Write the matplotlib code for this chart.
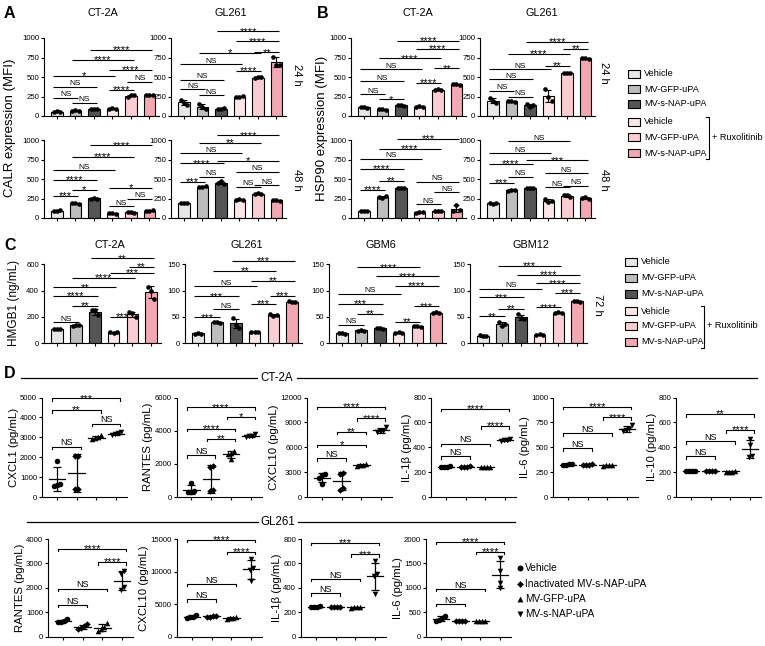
import numpy as np
import matplotlib
matplotlib.use('Agg')
import matplotlib.pyplot as plt

plt.rcParams['font.family'] = ['Liberation Sans', 'DejaVu Sans']
plt.rcParams['axes.linewidth'] = 0.8

# ---------------- data ----------------
bar_groups = ['Vehicle', 'MV-GFP-uPA', 'MV-s-NAP-uPA', 'Vehicle', 'MV-GFP-uPA', 'MV-s-NAP-uPA']
bar_colors = ['#e6e6e6', '#bdbdbd', '#555555', '#fce6e8', '#f9cdd2', '#f2a7b1']

# Panel A: CALR (MFI), 3 replicates per bar
calr_ct2a_24h = [[50, 60, 55], [65, 75, 70], [85, 95, 90], [90, 105, 90], [250, 265, 265], [265, 275, 270]]
calr_gl261_24h = [[210, 170, 140], [160, 110, 90], [95, 90, 100], [250, 240, 260], [490, 495, 495], [760, 660, 650]]
calr_ct2a_48h = [[95, 90, 100], [190, 195, 185], [250, 260, 245], [60, 65, 55], [75, 80, 70], [95, 90, 100]]
calr_gl261_48h = [[190, 195, 190], [395, 400, 405], [450, 470, 430], [230, 240, 235], [310, 320, 305], [225, 230, 220]]
# Panel B: HSP90 (MFI)
hsp_ct2a_24h = [[110, 115, 105], [85, 90, 80], [135, 140, 130], [120, 125, 110], [335, 340, 330], [405, 410, 400]]
hsp_gl261_24h = [[230, 190, 170], [190, 195, 185], [150, 120, 135], [340, 240, 190], [550, 555, 545], [740, 745, 735]]
hsp_ct2a_48h = [[85, 95, 90], [270, 260, 280], [390, 385, 380], [70, 75, 80], [85, 90, 85], [95, 170, 100]]
hsp_gl261_48h = [[190, 180, 195], [350, 360, 365], [380, 385, 390], [240, 200, 220], [300, 290, 270], [260, 270, 250]]
# Panel C: HMGB1 (ng/mL)
hmgb1_ct2a = [[105, 110, 108], [135, 140, 138], [255, 250, 215], [85, 80, 85], [235, 230, 200], [430, 400, 340]]
hmgb1_gl261 = [[18, 20, 18], [40, 41, 39], [48, 35, 30], [22, 21, 22], [55, 52, 53], [80, 79, 78]]
hmgb1_gbm6 = [[19, 20, 18], [24, 25, 24], [29, 30, 28], [20, 21, 19], [32, 33, 31], [58, 59, 58]]
hmgb1_gbm12 = [[16, 13, 14], [40, 33, 37], [55, 48, 46], [15, 17, 16], [58, 59, 57], [80, 81, 79]]

# significance annotations: (bar i, bar j, height, label)
calr_ct2a_24h_sig = [(0, 1, 236, 'NS'), (1, 2, 172, 'NS'), (0, 2, 377, 'NS'), (0, 3, 515, '*'), (3, 4, 335, '****'),
                     (4, 5, 442, 'NS'), (3, 5, 592, '****'), (1, 4, 720, '****'), (2, 5, 850, '****')]
calr_gl261_24h_sig = [(0, 1, 343, 'NS'), (1, 2, 270, 'NS'), (0, 2, 463, 'NS'), (0, 3, 665, 'NS'), (1, 4, 806, '*'),
                      (3, 4, 579, '****'), (4, 5, 815, '**'), (3, 5, 957, '****'), (2, 5, 1085, '****')]
calr_ct2a_48h_sig = [(0, 1, 279, '***'), (1, 2, 356, '*'), (0, 2, 485, '****'), (0, 3, 613, 'NS'), (1, 4, 780, '****'),
                     (2, 5, 932, '****'), (3, 4, 150, 'NS'), (4, 5, 249, 'NS'), (3, 5, 386, '*')]
calr_gl261_48h_sig = [(0, 1, 463, '***'), (1, 2, 528, 'NS'), (0, 2, 700, '****'), (0, 3, 830, 'NS'), (1, 4, 960, '**'),
                      (2, 5, 1060, '****'), (3, 4, 400, 'NS'), (4, 5, 420, 'NS'), (3, 5, 592, 'NS'), (2, 5, 733, '*')]
hsp_ct2a_24h_sig = [(0, 1, 280, 'NS'), (1, 2, 214, '*'), (0, 2, 450, 'NS'), (0, 3, 600, 'NS'), (3, 4, 420, '****'),
                    (4, 5, 609, '**'), (1, 4, 738, '****'), (3, 5, 858, '****'), (2, 5, 965, '****')]
hsp_gl261_24h_sig = [(0, 1, 322, 'NS'), (1, 2, 249, 'NS'), (0, 2, 472, 'NS'), (0, 3, 600, 'NS'), (3, 4, 643, '**'),
                     (1, 4, 794, '****'), (4, 5, 858, '**'), (2, 5, 952, '****')]
hsp_ct2a_48h_sig = [(0, 1, 365, '****'), (1, 2, 480, '**'), (0, 2, 630, '****'), (0, 3, 760, 'NS'), (1, 4, 888, '****'),
                    (2, 5, 1017, '***'), (3, 4, 180, 'NS'), (4, 5, 330, 'NS'), (3, 5, 467, 'NS')]
hsp_gl261_48h_sig = [(0, 1, 446, '***'), (1, 2, 532, 'NS'), (0, 2, 695, '****'), (0, 3, 832, 'NS'), (1, 4, 987, 'NS'),
                     (2, 5, 738, '***'), (3, 4, 395, 'NS'), (4, 5, 414, 'NS'), (3, 5, 573, 'NS')]
hmgb1_ct2a_sig = [(0, 1, 159, 'NS'), (1, 2, 285, '**'), (0, 2, 361, '****'), (0, 3, 425, '**'), (3, 4, 202, '***'),
                  (1, 4, 498, '****'), (3, 5, 534, '***'), (4, 5, 581, '**'), (2, 5, 645, '**')]
hmgb1_gl261_sig = [(0, 1, 49, '***'), (1, 2, 65, 'NS'), (0, 2, 89, '***'), (0, 3, 108, 'NS'), (1, 4, 138, '**'),
                   (2, 5, 157, '***'), (3, 4, 75, '***'), (4, 5, 90, '***'), (3, 5, 118, '**')]
hmgb1_gbm6_sig = [(0, 1, 35, 'NS'), (1, 2, 56, '**'), (0, 2, 75, '***'), (0, 3, 94, 'NS'), (1, 4, 144, '****'),
                  (2, 5, 127, '****'), (3, 4, 41, '**'), (4, 5, 70, '***'), (3, 5, 109, '****')]
hmgb1_gbm12_sig = [(0, 1, 51, '**'), (1, 2, 66, '**'), (0, 2, 87, '***'), (0, 3, 104, 'NS'), (1, 4, 147, '***'),
                   (2, 5, 130, '****'), (3, 4, 68, '****'), (4, 5, 96, '***'), (3, 5, 114, '****')]

# Panel D: cytokines (pg/mL), 4 mice per group
d_groups = ['Vehicle', 'Inactivated MV-s-NAP-uPA', 'MV-GFP-uPA', 'MV-s-NAP-uPA']
d_markers = ['o', 'D', '^', 'v']
cxcl1_ct2a = [[1800, 650, 600, 550], [2050, 2050, 400, 400], [3100, 2950, 3000, 2900], [3250, 3150, 3200, 3100]]
rantes_ct2a = [[850, 350, 300, 300], [1850, 1800, 400, 350], [2800, 2650, 2600, 2300], [3800, 3650, 3700, 3600]]
cxcl10_ct2a = [[2800, 2700, 2300, 1600], [2900, 2800, 1100, 800], [4000, 3900, 3800, 3700], [8500, 8000, 7800, 7900]]
il1b_ct2a = [[250, 245, 245, 240], [248, 245, 242, 245], [240, 238, 242, 240], [470, 460, 450, 455]]
il6_ct2a = [[330, 325, 322, 328], [325, 322, 328, 325], [318, 322, 320, 315], [720, 680, 660, 670]]
il10_ct2a = [[210, 212, 208, 210], [210, 208, 212, 210], [205, 208, 203, 205], [470, 420, 330, 320]]
rantes_gl261 = [[720, 650, 620, 600], [500, 420, 350, 300], [550, 400, 300, 250], [2700, 2550, 2050, 1900]]
cxcl10_gl261 = [[3400, 3100, 2900, 3000], [3200, 3100, 3050, 3150], [3100, 2900, 2700, 2800], [12000, 10500, 10200, 8600]]
il1b_gl261 = [[248, 245, 245, 242], [245, 245, 245, 245], [240, 240, 238, 242], [620, 510, 500, 350]]
il6_gl261 = [[430, 380, 350, 330], [330, 330, 325, 330], [320, 325, 315, 320], [1620, 1350, 1100, 1000]]

cxcl1_ct2a_sig = [(0, 1, 2520, 'NS'), (0, 2, 4365, '**'), (2, 3, 3690, 'NS'), (0, 3, 4950, '***')]
rantes_ct2a_sig = [(0, 1, 2510, 'NS'), (1, 2, 3500, '**'), (0, 2, 4100, '****'), (2, 3, 4840, '*'), (0, 3, 5400, '****')]
cxcl10_ct2a_sig = [(0, 1, 4650, 'NS'), (0, 2, 6280, '*'), (1, 2, 7880, '**'), (2, 3, 9470, '****'), (0, 3, 10900, '****')]
il1b_ct2a_sig = [(0, 1, 329, 'NS'), (0, 2, 430, 'NS'), (2, 3, 569, '****'), (0, 3, 711, '****')]
il6_ct2a_sig = [(0, 1, 488, 'NS'), (0, 2, 639, 'NS'), (2, 3, 800, '****'), (0, 3, 906, '****')]
il10_ct2a_sig = [(0, 1, 329, 'NS'), (0, 2, 449, 'NS'), (2, 3, 537, '****'), (0, 3, 666, '**')]
rantes_gl261_sig = [(0, 1, 1300, 'NS'), (0, 2, 1960, 'NS'), (2, 3, 3050, '****'), (0, 3, 3590, '****')]
cxcl10_gl261_sig = [(0, 1, 5730, 'NS'), (0, 2, 8090, 'NS'), (2, 3, 13000, '****'), (0, 3, 14850, '****')]
il1b_gl261_sig = [(0, 1, 355, 'NS'), (0, 2, 472, 'NS'), (2, 3, 674, '***'), (0, 3, 770, '***')]
il6_gl261_sig = [(0, 1, 670, 'NS'), (0, 2, 977, 'NS'), (2, 3, 1740, '****'), (0, 3, 1946, '****')]

# ---------------- figure ----------------
W, H = 765, 646
fig = plt.figure(figsize=(W / 100, H / 100), dpi=100)


def add_ax(left, top, width, bottom):
    return fig.add_axes([left / W, 1 - bottom / H, width / W, (bottom - top) / H])


ov = fig.add_axes([0, 0, 1, 1])
ov.set_xlim(0, W)
ov.set_ylim(H, 0)
ov.axis('off')


def style_ax(ax, yticks, ylim, nx, xlim):
    ax.set_xlim(*xlim)
    ax.set_ylim(*ylim)
    ax.set_yticks(yticks)
    ax.set_xticks(range(nx))
    ax.set_xticklabels([])
    for s in ['top', 'right']:
        ax.spines[s].set_visible(False)
    ax.tick_params(axis='both', direction='out', length=2.5, width=0.8, labelsize=5.6, pad=1)
    ax.patch.set_alpha(0)


def sig(ax, x0, x1, y, lab, tick=None, star_fs=8, ns_fs=6):
    ax.plot([x0, x1], [y, y], color='k', lw=0.8, clip_on=False, solid_capstyle='butt')
    if tick is not None:
        for xx in (x0, x1):
            ax.plot([xx, xx], [y, y - tick], color='k', lw=0.8, clip_on=False)
    xc = (x0 + x1) / 2
    if '*' in lab:
        ax.annotate(lab, (xc, y), xytext=(0, -2.4), textcoords='offset points', ha='center',
                    va='baseline', fontsize=star_fs, annotation_clip=False)
    else:
        ax.annotate(lab, (xc, y), xytext=(0, 1.0), textcoords='offset points', ha='center',
                    va='baseline', fontsize=ns_fs, annotation_clip=False)


def bar_panel(ax, pts, sigs, ymax, yticks):
    x = np.arange(len(pts))
    means = [np.mean(p) for p in pts]
    sds = [np.std(p, ddof=1) for p in pts]
    ax.bar(x, means, width=0.62, color=bar_colors, edgecolor='black', linewidth=0.8, zorder=2)
    ax.errorbar(x, means, yerr=sds, fmt='none', ecolor='black', elinewidth=0.8, capsize=2.2,
                capthick=0.8, zorder=3)
    for i, p in enumerate(pts):
        ax.scatter(i + np.array([-0.17, 0.0, 0.17]), p, s=11, color='black', zorder=4,
                   clip_on=False, linewidths=0)
    for (i, j, y, lab) in sigs:
        sig(ax, i - 0.2, j + 0.15, y, lab)
    style_ax(ax, yticks, (0, ymax), len(pts), (-0.7, 5.5))


def swarm_offsets(vals, thr, step=0.15):
    vals = np.asarray(vals, float)
    order = np.argsort(vals)
    offs = np.zeros(len(vals))
    clusters = [[order[0]]]
    for k in order[1:]:
        if vals[k] - vals[clusters[-1][-1]] < thr:
            clusters[-1].append(k)
        else:
            clusters.append([k])
    for c in clusters:
        n = len(c)
        for m, idx in enumerate(c):
            offs[idx] = (m - (n - 1) / 2) * step
    return offs


def dot_panel(ax, groups, sigs, ymax, yticks, ylabel):
    for g, vals in enumerate(groups):
        offs = swarm_offsets(vals, 0.05 * ymax)
        ax.scatter(g + offs, vals, marker=d_markers[g], s=16 if d_markers[g] != 'D' else 11,
                   color='black', linewidths=0, zorder=4, clip_on=False)
        m = np.mean(vals)
        sd = np.std(vals, ddof=1)
        ax.plot([g - 0.42, g + 0.42], [m, m], color='k', lw=0.9, zorder=5)
        ax.errorbar([g], [m], yerr=[sd], fmt='none', ecolor='k', elinewidth=0.9, capsize=3,
                    capthick=0.9, zorder=5)
    for (i, j, y, lab) in sigs:
        sig(ax, i - 0.22, j + 0.22, y, lab, tick=ymax * 0.025, star_fs=8, ns_fs=6.5)
    style_ax(ax, yticks, (0, ymax), 4, (-0.75, 3.55))
    ax.set_ylabel(ylabel, fontsize=8.2, labelpad=1)


# ---- Panels A & B ----
ab_ticks = [0, 250, 500, 750, 1000]
bw = 114.7
panels_ab = [
    (44, 38, 116, calr_ct2a_24h, calr_ct2a_24h_sig),
    (171, 38, 116, calr_gl261_24h, calr_gl261_24h_sig),
    (44, 140, 218, calr_ct2a_48h, calr_ct2a_48h_sig),
    (171, 140, 218, calr_gl261_48h, calr_gl261_48h_sig),
    (351, 38, 116, hsp_ct2a_24h, hsp_ct2a_24h_sig),
    (480, 38, 116, hsp_gl261_24h, hsp_gl261_24h_sig),
    (351, 140, 218, hsp_ct2a_48h, hsp_ct2a_48h_sig),
    (480, 140, 218, hsp_gl261_48h, hsp_gl261_48h_sig),
]
for (l, t, b, pts, sg) in panels_ab:
    ax = add_ax(l, t, bw, b)
    bar_panel(ax, pts, sg, 1000, ab_ticks)

# ---- Panel C ----
cw = 116.6
panels_c = [
    (44, hmgb1_ct2a, hmgb1_ct2a_sig, 600, [0, 200, 400, 600]),
    (185, hmgb1_gl261, hmgb1_gl261_sig, 150, [0, 50, 100, 150]),
    (329, hmgb1_gbm6, hmgb1_gbm6_sig, 150, [0, 50, 100, 150]),
    (470, hmgb1_gbm12, hmgb1_gbm12_sig, 150, [0, 50, 100, 150]),
]
for (l, pts, sg, ymax, yt) in panels_c:
    ax = add_ax(l, 264.3, cw, 343.3)
    bar_panel(ax, pts, sg, ymax, yt)

# ---- Panel D ----
dw = 85
panels_d = [
    (42, 397.5, 497, cxcl1_ct2a, cxcl1_ct2a_sig, 5000, [0, 1000, 2000, 3000, 4000, 5000], 'CXCL1 (pg/mL)'),
    (176.5, 397.5, 497, rantes_ct2a, rantes_ct2a_sig, 6000, [0, 2000, 4000, 6000], 'RANTES (pg/mL)'),
    (307, 397.5, 497, cxcl10_ct2a, cxcl10_ct2a_sig, 12000, [0, 3000, 6000, 9000, 12000], 'CXCL10 (pg/mL)'),
    (431, 397.5, 497, il1b_ct2a, il1b_ct2a_sig, 800, [0, 200, 400, 600, 800], 'IL-1β (pg/mL)'),
    (553, 397.5, 497, il6_ct2a, il6_ct2a_sig, 1000, [0, 250, 500, 750, 1000], 'IL-6 (pg/mL)'),
    (676, 397.5, 497, il10_ct2a, il10_ct2a_sig, 800, [0, 200, 400, 600, 800], 'IL-10 (pg/mL)'),
    (48, 539, 636.7, rantes_gl261, rantes_gl261_sig, 4000, [0, 1000, 2000, 3000, 4000], 'RANTES (pg/mL)'),
    (177, 539, 636.7, cxcl10_gl261, cxcl10_gl261_sig, 15000, [0, 5000, 10000, 15000], 'CXCL10 (pg/mL)'),
    (301, 539, 636.7, il1b_gl261, il1b_gl261_sig, 800, [0, 200, 400, 600, 800], 'IL-1β (pg/mL)'),
    (426, 539, 636.7, il6_gl261, il6_gl261_sig, 2000, [0, 500, 1000, 1500, 2000], 'IL-6 (pg/mL)'),
]
for (l, t, b, grp, sg, ymax, yt, yl) in panels_d:
    ax = add_ax(l, t, dw, b)
    dot_panel(ax, grp, sg, ymax, yt, yl)

# ---- overlay text / decorations ----
for (x, y, s) in [(4, 13, 'A'), (317, 13, 'B'), (4, 245, 'C'), (4, 373, 'D')]:
    ov.text(x, y, s, fontsize=11.5, fontweight='bold', ha='left', va='center')
for (x, y, s) in [(103, 13, 'CT-2A'), (231, 13, 'GL261'), (418, 13, 'CT-2A'), (542, 13, 'GL261'),
                  (110, 245, 'CT-2A'), (247, 245, 'GL261'), (381, 245, 'GBM6'), (531, 245, 'GBM12')]:
    ov.text(x, y, s, fontsize=7.8, ha='center', va='center')
for (x, y, s) in [(297, 75, '24 h'), (297, 180, '48 h'), (604, 73, '24 h'), (604, 180, '48 h'), (598, 305, '72 h')]:
    ov.text(x, y, s, fontsize=8, ha='center', va='center', rotation=-90)
ov.text(10, 128, 'CALR expression (MFI)', fontsize=9.5, ha='center', va='center', rotation=90)
ov.text(322, 128, 'HSP90 expression (MFI)', fontsize=9.5, ha='center', va='center', rotation=90)
ov.text(14, 303, 'HMGB1 (ng/mL)', fontsize=8.5, ha='center', va='center', rotation=90)


def bar_legend(x_box, x_txt, ys, x_br, y_br0, y_br1, y_rux):
    for k, (lab, col) in enumerate(zip(bar_groups, bar_colors)):
        ov.add_patch(plt.Rectangle((x_box, ys[k] - 3.8), 12.5, 7.6, facecolor=col, edgecolor='black', lw=0.8))
        ov.text(x_txt, ys[k], lab, fontsize=6.6, ha='left', va='center')
    ov.plot([x_br - 3, x_br, x_br, x_br - 3], [y_br0, y_br0, y_br1, y_br1], color='k', lw=0.8)
    ov.text(x_br + 3, y_rux, '+ Ruxolitinib', fontsize=6.6, ha='left', va='center')


bar_legend(628, 644, [74, 89, 104, 122, 137, 153], 709, 117, 159, 137)
bar_legend(625, 641, [262, 278, 294, 311, 326, 342], 704, 306, 348, 326)

# D headers
ov.plot([21, 257], [378, 378], color='k', lw=0.9)
ov.plot([297, 757], [378, 378], color='k', lw=0.9)
ov.text(277, 378, 'CT-2A', fontsize=8.3, ha='center', va='center')
ov.plot([27, 258], [522, 522], color='k', lw=0.9)
ov.plot([298, 515], [522, 522], color='k', lw=0.9)
ov.text(278, 522, 'GL261', fontsize=8.3, ha='center', va='center')

# D legend
for k, (lab, mk) in enumerate(zip(d_groups, d_markers)):
    yy = [568, 584, 599, 614][k]
    ov.scatter([520], [yy], marker=mk, s=18 if mk != 'D' else 12, color='black', linewidths=0)
    ov.text(525, yy, lab, fontsize=7.3, ha='left', va='center')

fig.savefig('out.png', dpi=100)
